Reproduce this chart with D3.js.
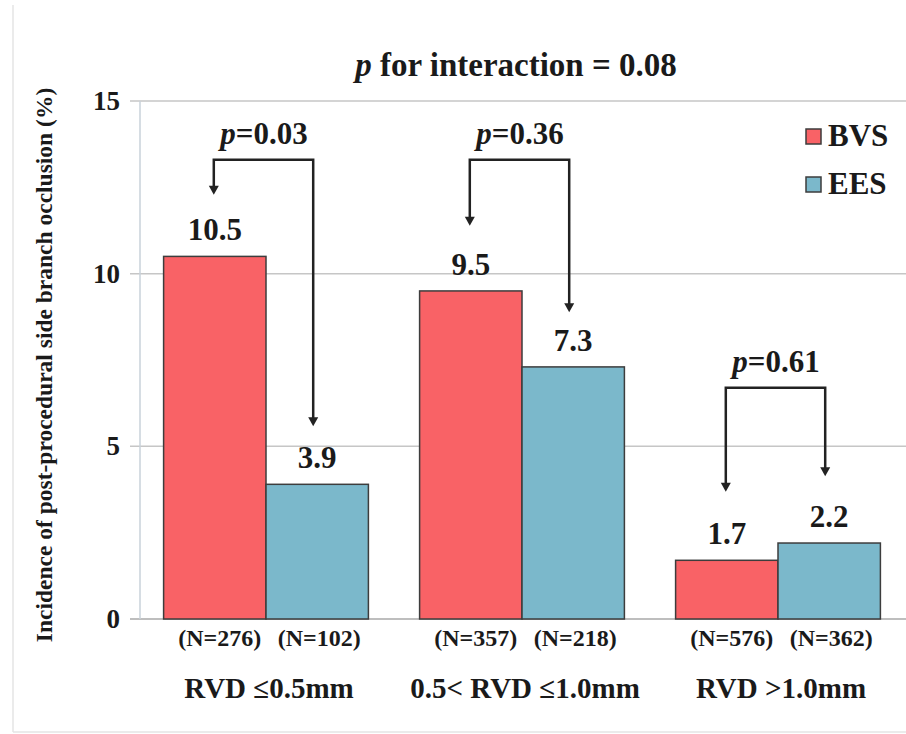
<!DOCTYPE html>
<html>
<head>
<meta charset="utf-8">
<script src="https://cdn.jsdelivr.net/npm/d3@7"></script>
<style>
  html, body { margin: 0; padding: 0; background: #fff; }
  svg { display: block; }
  text { font-family: "Liberation Serif", "Times New Roman", serif; font-weight: bold; fill: #1a1a1a; }
</style>
</head>
<body>
<svg id="chart" width="906" height="734"></svg>
<script>
// ---- data ----
const groups = ["RVD \u22640.5mm", "0.5< RVD \u22641.0mm", "RVD >1.0mm"];
const series = ["BVS", "EES"];
const bvsValues = [10.5, 9.5, 1.7];
const eesValues = [3.9, 7.3, 2.2];
const bvsN = [276, 357, 576];
const eesN = [102, 218, 362];
const pValues = ["0.03", "0.36", "0.61"];
const bracketLevels = [13.3, 13.3, 6.7];   // bracket heights (data units)
const bvsArrowTips = [12.4, 11.5, 3.8];    // arrow tips (data units)
const eesArrowTips = [5.7, 9.0, 4.25];
const yTicks = [0, 5, 10, 15];
const titleP = "p";
const titleRest = " for interaction = 0.08";
const yTitle = "Incidence of post-procedural side branch occlusion (%)";

const colors = { BVS: "#f96266", EES: "#7bb8cb" };

const svg = d3.select("#chart");
const W = 906, H = 734;
const m = { left: 138, right: 0, top: 101, bottom: 115 };

const x0 = d3.scaleBand().domain(groups).range([m.left, W - m.right]).paddingInner(0.2).paddingOuter(0.1);
const x1 = d3.scaleBand().domain(series).range([0, x0.bandwidth()]);
const y = d3.scaleLinear().domain([0, 15]).range([H - m.bottom, m.top]);

// frame lines
svg.append("line").attr("x1", 13).attr("x2", 13).attr("y1", 5).attr("y2", 732)
  .attr("stroke", "#e4e4e4").attr("stroke-width", 1.5);
svg.append("line").attr("x1", 13).attr("x2", W).attr("y1", 732).attr("y2", 732)
  .attr("stroke", "#e4e4e4").attr("stroke-width", 1.5);

// gridlines
svg.append("g").selectAll("line").data(yTicks).join("line")
  .attr("x1", 130).attr("x2", W)
  .attr("y1", d => y(d)).attr("y2", d => y(d))
  .attr("stroke", d => d === 0 ? "#a8a8a8" : "#c6c6c6").attr("stroke-width", 1.5);

// y axis line
svg.append("line").attr("x1", 140).attr("x2", 140).attr("y1", y(15)).attr("y2", y(0))
  .attr("stroke", "#c9d2da").attr("stroke-width", 1.5);

// tick labels
svg.append("g").selectAll("text").data(yTicks).join("text")
  .attr("x", 120).attr("y", d => y(d) + 9)
  .attr("text-anchor", "end").attr("font-size", 27)
  .text(d => d);

// y title
svg.append("text")
  .attr("transform", `translate(52,${(y(0) + y(15)) / 2 + 5}) rotate(-90)`)
  .attr("text-anchor", "middle").attr("font-size", 23.5)
  .text(yTitle);

// title
const t = svg.append("text").attr("x", 516).attr("y", 76).attr("text-anchor", "middle").attr("font-size", 33);
t.append("tspan").attr("font-style", "italic").text(titleP);
t.append("tspan").text(titleRest);

// bars
const rows = groups.map((g, i) => ({ g, i, vals: [
  { s: "BVS", v: bvsValues[i], n: bvsN[i], tip: bvsArrowTips[i] },
  { s: "EES", v: eesValues[i], n: eesN[i], tip: eesArrowTips[i] }
]}));

const gg = svg.append("g").selectAll("g").data(rows).join("g")
  .attr("transform", d => `translate(${x0(d.g)},0)`);

gg.selectAll("rect").data(d => d.vals).join("rect")
  .attr("x", d => x1(d.s)).attr("width", x1.bandwidth())
  .attr("y", d => y(d.v)).attr("height", d => y(0) - y(d.v))
  .attr("fill", d => colors[d.s]).attr("stroke", "#3d3d3d").attr("stroke-width", 1.5);

// value labels
gg.selectAll("text.val").data(d => d.vals).join("text").attr("class", "val")
  .attr("x", d => x1(d.s) + x1.bandwidth() / 2).attr("y", d => y(d.v) - 16)
  .attr("text-anchor", "middle").attr("font-size", 31)
  .text(d => d.v.toFixed(1));

// N labels
gg.selectAll("text.n").data(d => d.vals).join("text").attr("class", "n")
  .attr("x", (d, k) => x1(d.s) + x1.bandwidth() / 2 + (k === 0 ? 5 : 2)).attr("y", H - m.bottom + 27)
  .attr("text-anchor", "middle").attr("font-size", 24)
  .text(d => `(N=${d.n})`);

// category labels
gg.append("text")
  .attr("x", x0.bandwidth() / 2 + 3).attr("y", H - m.bottom + 79)
  .attr("text-anchor", "middle").attr("font-size", 29)
  .text(d => d.g);

// brackets
gg.append("path")
  .attr("d", d => {
    const xa = x1("BVS") + x1.bandwidth() / 2 - 1;
    const xb = x1("EES") + x1.bandwidth() / 2 - 4;
    const top = y(bracketLevels[d.i]);
    return `M${xa},${y(d.vals[0].tip)} L${xa},${top} L${xb},${top} L${xb},${y(d.vals[1].tip)}`;
  })
  .attr("fill", "none").attr("stroke", "#222").attr("stroke-width", 2.5);

// arrowheads at tips
gg.selectAll("path.head").data(d => d.vals.map((v, k) => ({ ...v, k }))).join("path").attr("class", "head")
  .attr("d", d => {
    const xc = x1(d.s) + x1.bandwidth() / 2 - (d.k === 0 ? 1 : 4);
    const yt = y(d.tip) + 4;
    return `M${xc - 5},${yt - 9} L${xc + 5},${yt - 9} L${xc},${yt} z`;
  })
  .attr("fill", "#222");

// p labels
const pl = gg.append("text")
  .attr("x", x0.bandwidth() / 2 - 2).attr("y", d => y(bracketLevels[d.i]) - 16)
  .attr("text-anchor", "middle").attr("font-size", 31);
pl.append("tspan").attr("font-style", "italic").text("p");
pl.append("tspan").text(d => "=" + pValues[d.i]);

// legend
const lg = svg.append("g").selectAll("g").data(series).join("g")
  .attr("transform", (d, i) => `translate(806,${129 + i * 48})`);
lg.append("rect").attr("width", 15).attr("height", 15)
  .attr("fill", d => colors[d]).attr("stroke", "#3d3d3d").attr("stroke-width", 1.5);
lg.append("text").attr("x", 22).attr("y", 17).attr("font-size", 31).text(d => d);
</script>
</body>
</html>
